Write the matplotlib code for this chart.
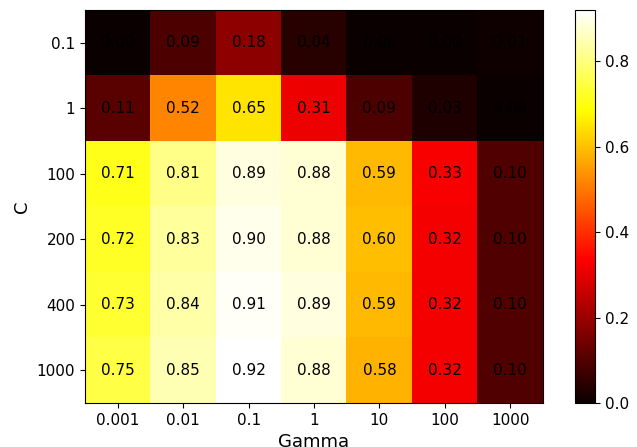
import numpy as np
import matplotlib
matplotlib.use("Agg")
import matplotlib.pyplot as plt

gammas = ["0.001", "0.01", "0.1", "1", "10", "100", "1000"]
Cs = ["0.1", "1", "100", "200", "400", "1000"]
row_c01 = [0.00, 0.09, 0.18, 0.04, 0.00, 0.00, 0.01]
row_c1 = [0.11, 0.52, 0.65, 0.31, 0.09, 0.03, 0.00]
row_c100 = [0.71, 0.81, 0.89, 0.88, 0.59, 0.33, 0.10]
row_c200 = [0.72, 0.83, 0.90, 0.88, 0.60, 0.32, 0.10]
row_c400 = [0.73, 0.84, 0.91, 0.89, 0.59, 0.32, 0.10]
row_c1000 = [0.75, 0.85, 0.92, 0.88, 0.58, 0.32, 0.10]

scores = np.array([row_c01, row_c1, row_c100, row_c200, row_c400, row_c1000])

fig = plt.figure(figsize=(6.37, 4.47), dpi=100)
ax = fig.add_axes([85/637, 44/447, 458/637, 393/447])
cax = fig.add_axes([575/637, 44/447, 20/637, 393/447])

im = ax.imshow(scores, cmap="hot", aspect="auto", vmin=0, vmax=scores.max())
ax.set_xticks(range(len(gammas)))
ax.set_xticklabels(gammas, fontsize=11)
ax.set_yticks(range(len(Cs)))
ax.set_yticklabels(Cs, fontsize=11)
ax.set_xlabel("Gamma", fontsize=13)
ax.set_ylabel("C", fontsize=13)

for i in range(scores.shape[0]):
    for j in range(scores.shape[1]):
        ax.text(j, i, f"{scores[i, j]:.2f}", ha="center", va="center", color="black", fontsize=11)

cb = fig.colorbar(im, cax=cax)
cb.set_ticks([0.0, 0.2, 0.4, 0.6, 0.8])
cb.ax.tick_params(labelsize=11)

fig.savefig("out.png", dpi=100)
